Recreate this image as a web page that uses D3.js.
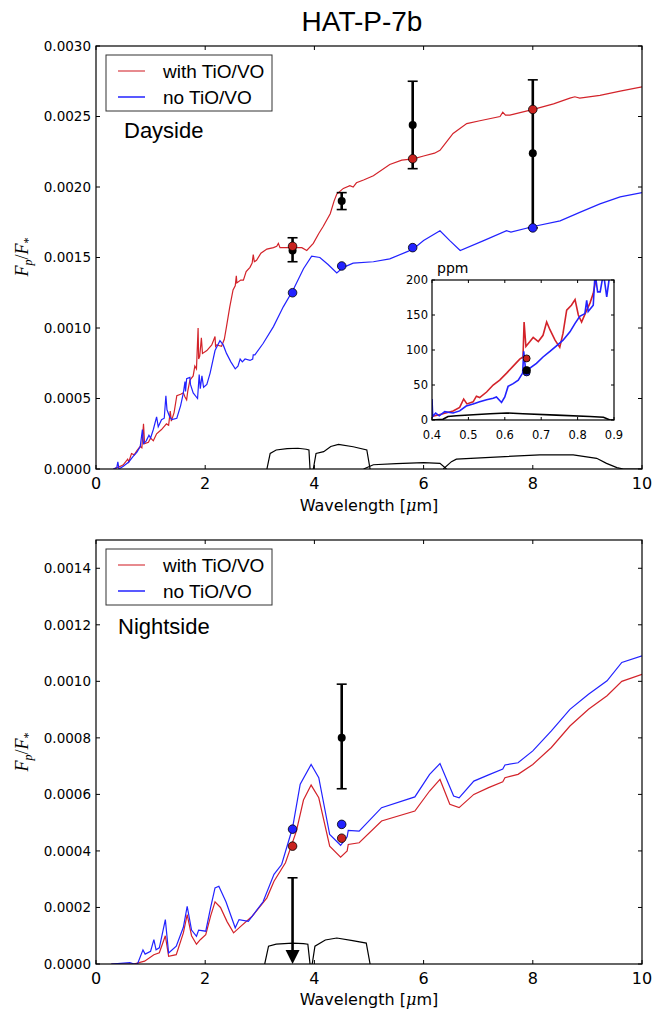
<!DOCTYPE html>
<html><head><meta charset="utf-8">
<script src="https://cdn.jsdelivr.net/npm/d3@7"></script>
<style>body{margin:0;background:#fff}</style>
</head><body><svg id="c" width="670" height="1011" xmlns="http://www.w3.org/2000/svg"></svg>
<script>
// ---------------- DATA ----------------
const title = "HAT-P-7b";
const xTicks = [0, 2, 4, 6, 8, 10];
const dayYTicks = [0, 0.0005, 0.001, 0.0015, 0.002, 0.0025, 0.003];
const nightYTicks = [0, 0.0002, 0.0004, 0.0006, 0.0008, 0.001, 0.0012, 0.0014];
const insetXTicks = [0.4, 0.5, 0.6, 0.7, 0.8, 0.9];
const insetYTicks = [0, 50, 100, 150, 200];
const seriesNames = ["with TiO/VO", "no TiO/VO"];

// Dayside model spectra [wavelength um, Fp/F*]
const dayWithTiO = [[0.32,0],[0.45,0.00002],[0.5,0.00003],[0.58,0.00007],[0.6,0.00005],[0.65,0.00011],[0.7,0.0001],[0.75,0.00013],[0.81,0.00016],[0.84,0.00015],[0.87,0.00032],[0.89,0.00018],[0.96,0.00019],[1.0,0.00022],[1.05,0.0002],[1.11,0.00025],[1.2,0.00028],[1.29,0.00032],[1.33,0.00031],[1.36,0.00041],[1.38,0.00034],[1.43,0.0004],[1.48,0.00052],[1.55,0.00053],[1.6,0.00054],[1.63,0.00051],[1.66,0.00049],[1.68,0.00055],[1.72,0.00063],[1.78,0.00066],[1.81,0.00073],[1.84,0.00071],[1.87,0.001],[1.88,0.00078],[1.9,0.0008],[1.93,0.00093],[1.95,0.00082],[2.03,0.00084],[2.12,0.00088],[2.18,0.00094],[2.19,0.00087],[2.21,0.00088],[2.3,0.00087],[2.35,0.00092],[2.39,0.00101],[2.45,0.00115],[2.51,0.00127],[2.55,0.0013],[2.57,0.00137],[2.58,0.00132],[2.65,0.00134],[2.7,0.00134],[2.75,0.0014],[2.82,0.00143],[2.86,0.00146],[2.88,0.00152],[2.9,0.00147],[2.94,0.00148],[3.02,0.00153],[3.13,0.00156],[3.25,0.00157],[3.31,0.00158],[3.34,0.0016],[3.37,0.00157],[3.5,0.00157],[3.61,0.00157],[3.77,0.00157],[3.86,0.00155],[3.98,0.0016],[4.08,0.00167],[4.16,0.00172],[4.29,0.00181],[4.36,0.0019],[4.41,0.00195],[4.53,0.00199],[4.65,0.00201],[4.71,0.002],[4.77,0.00203],[4.9,0.00205],[5.08,0.00208],[5.38,0.00216],[5.6,0.00219],[5.81,0.0022],[6.0,0.00222],[6.2,0.00224],[6.3,0.00226],[6.42,0.00232],[6.54,0.00238],[6.79,0.00245],[7.03,0.00247],[7.4,0.0025],[7.45,0.00253],[7.5,0.00251],[7.58,0.00251],[8.01,0.00255],[8.38,0.00259],[8.68,0.00263],[8.77,0.00264],[8.86,0.00263],[9.23,0.00265],[9.6,0.00268],[10,0.00271]];
const dayNoTiO = [[0.32,0],[0.38,0.00001],[0.4,0.00005],[0.42,0],[0.5,0.00002],[0.6,0.00005],[0.68,0.00009],[0.75,0.00012],[0.81,0.00016],[0.85,0.00028],[0.87,0.00018],[0.92,0.0002],[0.97,0.00024],[1.0,0.00022],[1.05,0.00028],[1.11,0.00037],[1.14,0.0003],[1.2,0.00035],[1.25,0.00036],[1.28,0.00052],[1.3,0.00042],[1.35,0.00037],[1.39,0.00035],[1.48,0.00036],[1.55,0.00045],[1.6,0.00054],[1.63,0.00062],[1.64,0.00055],[1.66,0.00064],[1.72,0.00065],[1.73,0.0006],[1.78,0.00054],[1.86,0.0005],[1.89,0.00067],[1.91,0.00057],[1.94,0.00066],[1.97,0.00058],[2.03,0.0006],[2.09,0.00068],[2.18,0.00084],[2.27,0.00091],[2.33,0.00088],[2.39,0.00082],[2.47,0.00076],[2.55,0.00071],[2.6,0.00073],[2.64,0.00078],[2.68,0.00076],[2.73,0.00078],[2.82,0.00077],[2.87,0.00078],[2.88,0.00081],[2.91,0.00081],[3.06,0.00089],[3.25,0.00101],[3.43,0.00115],[3.61,0.00127],[3.8,0.00142],[3.95,0.00151],[4.1,0.0015],[4.25,0.00145],[4.41,0.00139],[4.53,0.00143],[4.71,0.00146],[5.08,0.00147],[5.38,0.00149],[5.69,0.00154],[5.81,0.00156],[6.0,0.00162],[6.3,0.00169],[6.48,0.00162],[6.67,0.00155],[7.1,0.00162],[7.52,0.00169],[7.6,0.00168],[8.01,0.00172],[8.5,0.00176],[8.86,0.00182],[9.23,0.00188],[9.6,0.00193],[10,0.00196]];

// Nightside model spectra
const nightWithTiO = [[0.28,0],[0.69,0],[0.89,0.00001],[1.06,0.000033],[1.16,0.00004],[1.27,0.0001],[1.33,0.000027],[1.47,0.000033],[1.6,0.00011],[1.67,0.000175],[1.75,0.0001],[1.84,0.00007],[1.91,0.000086],[2.01,0.000104],[2.1,0.00017],[2.18,0.00022],[2.28,0.0002],[2.4,0.00015],[2.52,0.00011],[2.65,0.000133],[2.86,0.000169],[3.13,0.000234],[3.26,0.000293],[3.47,0.000358],[3.67,0.00047],[3.8,0.00058],[3.94,0.000633],[4.08,0.000588],[4.28,0.000417],[4.48,0.000378],[4.6,0.0004],[4.62,0.000423],[4.82,0.000429],[5.23,0.000506],[5.84,0.000541],[6.11,0.000612],[6.3,0.000653],[6.48,0.000565],[6.65,0.000553],[6.92,0.0006],[7.19,0.000624],[7.45,0.000645],[7.49,0.000659],[7.73,0.000671],[8.0,0.000706],[8.34,0.000766],[8.68,0.000842],[9.02,0.000901],[9.36,0.000949],[9.63,0.001],[10,0.001025]];
const nightNoTiO = [[0.28,0],[0.62,0.000005],[0.7,0],[0.76,0],[0.86,0.00005],[0.9,0.000035],[1.0,0.000045],[1.06,0.000086],[1.1,0.00005],[1.16,0.000057],[1.27,0.000157],[1.33,0.000039],[1.47,0.000063],[1.6,0.00013],[1.67,0.000204],[1.75,0.00012],[1.84,0.000098],[1.88,0.00012],[2.01,0.000116],[2.1,0.0002],[2.18,0.000269],[2.25,0.000275],[2.38,0.00022],[2.55,0.000128],[2.62,0.000157],[2.79,0.000151],[3.06,0.00022],[3.26,0.000317],[3.4,0.000352],[3.6,0.000482],[3.74,0.000636],[3.94,0.000706],[4.08,0.000659],[4.28,0.000458],[4.48,0.00042],[4.6,0.00045],[4.62,0.000473],[4.82,0.00047],[5.23,0.000553],[5.84,0.000591],[6.11,0.000671],[6.3,0.000709],[6.55,0.000594],[6.65,0.000588],[6.92,0.000647],[7.19,0.000669],[7.45,0.00069],[7.49,0.000704],[7.73,0.000712],[8.0,0.000754],[8.34,0.000825],[8.68,0.000901],[9.02,0.000954],[9.36,0.001002],[9.63,0.001067],[10,0.00109]];

// Inset (optical, ppm)
const insetWithTiO = [[0.4,5],[0.43,9],[0.458,13],[0.476,18],[0.487,30],[0.496,23],[0.513,26],[0.522,34],[0.531,32],[0.55,40],[0.568,50],[0.586,57],[0.605,67],[0.623,77],[0.641,87],[0.65,90],[0.653,140],[0.658,105],[0.669,112],[0.678,118],[0.692,112],[0.705,121],[0.715,140],[0.724,129],[0.738,114],[0.751,104],[0.76,124],[0.77,157],[0.783,164],[0.793,172],[0.802,150],[0.811,140],[0.825,157],[0.834,167],[0.843,181],[0.85,200],[0.86,230]];
const insetNoTiO = [[0.4,30],[0.402,5],[0.41,10],[0.42,6],[0.435,12],[0.458,10],[0.476,13],[0.494,20],[0.513,23],[0.531,26],[0.55,29],[0.568,31],[0.577,33],[0.591,25],[0.6,33],[0.609,48],[0.623,52],[0.637,57],[0.649,67],[0.652,98],[0.658,67],[0.669,74],[0.687,81],[0.705,90],[0.724,98],[0.742,106],[0.76,114],[0.779,126],[0.793,138],[0.806,148],[0.82,152],[0.825,171],[0.829,155],[0.843,164],[0.848,210],[0.855,183],[0.862,183],[0.871,210],[0.88,176],[0.889,210]];
const insetBand = [[0.4,0],[0.43,1],[0.444,5],[0.467,6],[0.56,9],[0.605,10],[0.65,9],[0.742,7],[0.834,5],[0.871,4],[0.889,0],[0.9,0]];

// Spitzer bandpasses (arbitrary scaling)
const dayBands = [
  [[3.13,0],[3.19,0.00011],[3.3,0.000135],[3.5,0.000145],[3.7,0.000147],[3.85,0.00014],[3.9,0.000135],[3.92,0]],
  [[3.98,0],[4.03,0.00011],[4.17,0.000123],[4.3,0.00016],[4.44,0.000175],[4.71,0.000158],[4.96,0.000135],[5.02,0]],
  [[4.9,0],[5.08,0.00003],[5.5,0.000038],[6.0,0.000045],[6.3,0.00004],[6.42,0]],
  [[6.36,0],[6.51,0.000052],[6.6,0.00007],[7.22,0.000083],[8.13,0.0001],[8.74,0.0001],[9.17,0.000076],[9.35,0.00004],[9.54,0.00001],[9.66,0],[10,0]]
];
const nightBands = [
  [[3.09,0],[3.16,0.000063],[3.3,0.00007],[3.6,0.000074],[3.8,0.000072],[3.88,0.00007],[3.92,0]],
  [[3.96,0],[4.01,0.000063],[4.2,0.000085],[4.41,0.000092],[4.7,0.000083],[4.95,0.000074],[5.02,0]]
];

// Observations
const dayObsW = [3.6, 4.5, 5.8, 8.0];
const dayObsF = [0.00155, 0.0019, 0.00244, 0.00224];
const dayObsLo = [0.00147, 0.00184, 0.00213, 0.00171];
const dayObsHi = [0.00164, 0.00196, 0.00275, 0.00276];
const dayRedW = [3.6, 5.8, 8.0];
const dayRedF = [0.00158, 0.0022, 0.00255];
const dayBlueW = [3.6, 4.5, 5.8, 8.0];
const dayBlueF = [0.00125, 0.00144, 0.00157, 0.00171];

const nightObsW = [4.5], nightObsF = [0.0008], nightObsLo = [0.00062], nightObsHi = [0.00099];
const nightLimitW = [3.6], nightLimitF = [0.000305];
const nightRedW = [3.6, 4.5], nightRedF = [0.000417, 0.000445];
const nightBlueW = [3.6, 4.5], nightBlueF = [0.000477, 0.000494];

const insetObsW = [0.66], insetObsF = [71];
const insetRedF = [88], insetBlueF = [68];

// ---------------- DRAW ----------------
const RED = "#d3232a", BLUE = "#2222ff";
const svg = d3.select("#c");
svg.append("rect").attr("width", 670).attr("height", 1011).attr("fill", "#fff");

svg.append("text").attr("x", 362).attr("y", 31).attr("text-anchor", "middle")
  .attr("font-family", "Liberation Sans, Arial, sans-serif").attr("font-size", 28).text(title);

let clipId = 0;
function drawAxes(g, x, y, xt, yt, fmtX, fmtY, opts) {
  const [x0, x1] = x.range(), [y1, y0] = y.range();
  const tl = opts.tickLen;
  g.append("rect").attr("x", x0).attr("y", y0).attr("width", x1 - x0).attr("height", y1 - y0)
    .attr("fill", "none").attr("stroke", "#000").attr("stroke-width", opts.frameW);
  xt.forEach(t => {
    const px = x(t);
    g.append("line").attr("x1", px).attr("x2", px).attr("y1", y1).attr("y2", y1 - tl).attr("stroke", "#000");
    g.append("line").attr("x1", px).attr("x2", px).attr("y1", y0).attr("y2", y0 + tl).attr("stroke", "#000");
    g.append("text").attr("x", px).attr("y", y1 + opts.xLabOff).attr("text-anchor", "middle")
      .attr("font-family", "DejaVu Sans, sans-serif").attr("font-size", opts.xFont).text(fmtX(t));
  });
  yt.forEach(t => {
    const py = y(t);
    g.append("line").attr("x1", x0).attr("x2", x0 + tl).attr("y1", py).attr("y2", py).attr("stroke", "#000");
    g.append("line").attr("x1", x1).attr("x2", x1 - tl).attr("y1", py).attr("y2", py).attr("stroke", "#000");
    g.append("text").attr("x", x0 - opts.yLabOff).attr("y", py + opts.yFont * 0.36).attr("text-anchor", "end")
      .attr("font-family", "DejaVu Sans, sans-serif").attr("font-size", opts.yFont).text(fmtY(t));
  });
}
function clipFor(g, x, y) {
  const id = "clip" + (clipId++);
  const [x0, x1] = x.range(), [y1, y0] = y.range();
  g.append("clipPath").attr("id", id).append("rect").attr("x", x0).attr("y", y0).attr("width", x1 - x0).attr("height", y1 - y0);
  return "url(#" + id + ")";
}
function lineOf(x, y) { return d3.line().x(d => x(d[0])).y(d => y(d[1])); }
function dots(g, x, y, ws, fs, fill, r) {
  g.selectAll(null).data(ws.map((w, i) => [w, fs[i]])).enter().append("circle")
    .attr("cx", d => x(d[0])).attr("cy", d => y(d[1])).attr("r", r)
    .attr("fill", fill).attr("stroke", "#000").attr("stroke-width", 0.8);
}
function errbars(g, x, y, ws, fs, lo, hi) {
  ws.forEach((w, i) => {
    const px = x(w);
    g.append("line").attr("x1", px).attr("x2", px).attr("y1", y(lo[i])).attr("y2", y(hi[i])).attr("stroke", "#000").attr("stroke-width", 2.6);
    [lo[i], hi[i]].forEach(v => g.append("line").attr("x1", px - 5).attr("x2", px + 5).attr("y1", y(v)).attr("y2", y(v)).attr("stroke", "#000").attr("stroke-width", 1.6));
    g.append("circle").attr("cx", px).attr("cy", y(fs[i])).attr("r", 4).attr("fill", "#000");
  });
}
function ylabel(g, cx, cy) {
  const t = g.append("text").attr("transform", `translate(${cx},${cy}) rotate(-90)`).attr("text-anchor", "middle")
    .attr("font-family", "Liberation Serif, Times New Roman, serif").attr("font-size", 18).attr("font-style", "italic");
  t.append("tspan").text("F");
  t.append("tspan").attr("font-size", 12).attr("dy", 4).text("p");
  t.append("tspan").attr("dy", -4).attr("font-style", "normal").text("/");
  t.append("tspan").text("F");
  t.append("tspan").attr("font-size", 12).attr("dy", 4).attr("font-style", "normal").text("*");
}
function xlabel(g, cx, by) {
  const t = g.append("text").attr("x", cx).attr("y", by).attr("text-anchor", "middle")
    .attr("font-family", "DejaVu Sans, sans-serif").attr("font-size", 16);
  t.append("tspan").text("Wavelength [");
  t.append("tspan").attr("font-family", "DejaVu Serif, serif").attr("font-style", "italic").text("μ");
  t.append("tspan").text("m]");
}
function legend(g, x0, y0) {
  g.append("rect").attr("x", x0).attr("y", y0).attr("width", 166).attr("height", 56)
    .attr("fill", "#fff").attr("stroke", "#333").attr("stroke-width", 1);
  [RED, BLUE].forEach((c, i) => {
    const yy = y0 + 16 + i * 26;
    g.append("line").attr("x1", x0 + 12).attr("x2", x0 + 39).attr("y1", yy).attr("y2", yy)
      .attr("stroke", c).attr("stroke-width", 1.5).attr("opacity", i === 0 ? 0.7 : 1);
    g.append("text").attr("x", x0 + 57).attr("y", yy + 7).attr("font-family", "Liberation Sans, Arial, sans-serif")
      .attr("font-size", 19).text(seriesNames[i]);
  });
}

const fmt4 = d3.format(".4f");
const fmtX = d3.format("d");
const axOpts = { tickLen: 4, frameW: 1.2, xLabOff: 20, yLabOff: 5, xFont: 16, yFont: 13.5 };

// ---- Dayside panel ----
{
  const g = svg.append("g");
  const x = d3.scaleLinear().domain([0, 10]).range([96, 642]);
  const y = d3.scaleLinear().domain([0, 0.003]).range([469, 46]);
  const cp = clipFor(g, x, y);
  const L = lineOf(x, y);
  const lg = g.append("g").attr("clip-path", cp);
  dayBands.forEach(b => lg.append("path").attr("d", L(b)).attr("fill", "none").attr("stroke", "#000").attr("stroke-width", 1.2));
  lg.append("path").attr("d", L(dayWithTiO)).attr("fill", "none").attr("stroke", RED).attr("stroke-width", 1.2);
  lg.append("path").attr("d", L(dayNoTiO)).attr("fill", "none").attr("stroke", BLUE).attr("stroke-width", 1.2);
  errbars(g, x, y, dayObsW, dayObsF, dayObsLo, dayObsHi);
  dots(g, x, y, dayRedW, dayRedF, "#c8221e", 4.3);
  dots(g, x, y, dayBlueW, dayBlueF, BLUE, 4.3);
  drawAxes(g, x, y, xTicks, dayYTicks, fmtX, fmt4, axOpts);
  legend(g, 106, 55);
  g.append("text").attr("x", 124).attr("y", 138).attr("font-family", "Liberation Sans, Arial, sans-serif").attr("font-size", 22).text("Dayside");
  ylabel(g, 28, 257);
  xlabel(g, 369, 511);

  // Inset
  const xi = d3.scaleLinear().domain([0.4, 0.9]).range([432, 614]);
  const yi = d3.scaleLinear().domain([0, 200]).range([420, 280]);
  g.append("rect").attr("x", 432).attr("y", 280).attr("width", 182).attr("height", 140).attr("fill", "#fff");
  const cpi = clipFor(g, xi, yi);
  const Li = lineOf(xi, yi);
  const ig = g.append("g").attr("clip-path", cpi);
  ig.append("path").attr("d", Li(insetBand)).attr("fill", "none").attr("stroke", "#000").attr("stroke-width", 1.6);
  ig.append("path").attr("d", Li(insetWithTiO)).attr("fill", "none").attr("stroke", RED).attr("stroke-width", 1.6);
  ig.append("path").attr("d", Li(insetNoTiO)).attr("fill", "none").attr("stroke", BLUE).attr("stroke-width", 1.6);
  dots(g, xi, yi, insetObsW, insetBlueF, BLUE, 3.5);
  dots(g, xi, yi, insetObsW, insetRedF, "#c8221e", 3.5);
  dots(g, xi, yi, insetObsW, insetObsF, "#000", 3.8);
  drawAxes(g, xi, yi, insetXTicks, insetYTicks, d3.format(".1f"), d3.format("d"),
    { tickLen: 3, frameW: 1.2, xLabOff: 19, yLabOff: 4, xFont: 11.5, yFont: 11.5 });
  g.append("text").attr("x", 437).attr("y", 273).attr("font-family", "DejaVu Sans, sans-serif").attr("font-size", 14).text("ppm");
}

// ---- Nightside panel ----
{
  const g = svg.append("g");
  const x = d3.scaleLinear().domain([0, 10]).range([96, 642]);
  const y = d3.scaleLinear().domain([0, 0.0015]).range([964, 540]);
  const cp = clipFor(g, x, y);
  const L = lineOf(x, y);
  const lg = g.append("g").attr("clip-path", cp);
  nightBands.forEach(b => lg.append("path").attr("d", L(b)).attr("fill", "none").attr("stroke", "#000").attr("stroke-width", 1.2));
  lg.append("path").attr("d", L(nightWithTiO)).attr("fill", "none").attr("stroke", RED).attr("stroke-width", 1.2);
  lg.append("path").attr("d", L(nightNoTiO)).attr("fill", "none").attr("stroke", BLUE).attr("stroke-width", 1.2);
  errbars(g, x, y, nightObsW, nightObsF, nightObsLo, nightObsHi);
  nightLimitW.forEach((w, i) => {
    const px = x(w), top = y(nightLimitF[i]), bot = y(0);
    g.append("line").attr("x1", px).attr("x2", px).attr("y1", top).attr("y2", bot - 12).attr("stroke", "#000").attr("stroke-width", 2.6);
    g.append("line").attr("x1", px - 5).attr("x2", px + 5).attr("y1", top).attr("y2", top).attr("stroke", "#000").attr("stroke-width", 1.6);
    g.append("path").attr("d", `M${px - 7},${bot - 14}L${px + 7},${bot - 14}L${px},${bot}Z`).attr("fill", "#000");
  });
  dots(g, x, y, nightRedW, nightRedF, "#c8221e", 4.3);
  dots(g, x, y, nightBlueW, nightBlueF, BLUE, 4.3);
  drawAxes(g, x, y, xTicks, nightYTicks, fmtX, fmt4, axOpts);
  legend(g, 106, 549);
  g.append("text").attr("x", 118).attr("y", 634).attr("font-family", "Liberation Sans, Arial, sans-serif").attr("font-size", 22).text("Nightside");
  ylabel(g, 28, 752);
  xlabel(g, 369, 1005);
}
</script></body></html>
